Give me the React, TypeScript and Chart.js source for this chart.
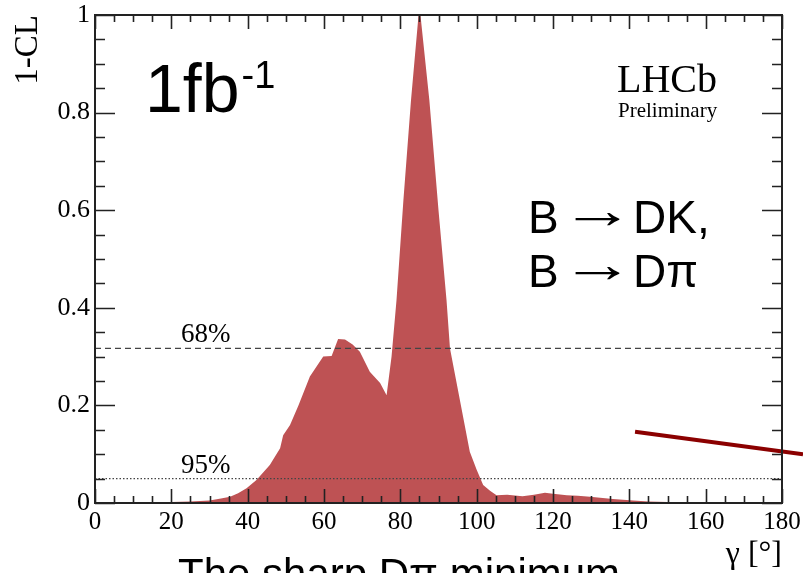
import React, { useEffect, useRef } from "react";
import { Chart, registerables } from "chart.js";

Chart.register(...registerables);

// γ [°] sampling points and 1-CL values
const gammaDeg = [0, 10, 20, 25, 30, 33, 35.4, 37.5, 39.7, 42.3, 45.8, 48.5, 49.3, 51.1, 53.3, 56.3, 59.8, 62, 63.7, 65.5, 67.5, 69.4, 72, 74.7, 76.4, 77.7, 79, 80.8, 82.8, 85, 87.6, 90, 92.1, 93, 95.6, 98.2, 100, 101.7, 103.5, 105.2, 108, 112, 115, 117.9, 120, 123.6, 126.5, 129.7, 135.7, 141, 145, 150, 160, 180];
const oneMinusCL = [0, 0.001, 0.002, 0.003, 0.005, 0.009, 0.013, 0.02, 0.03, 0.047, 0.078, 0.112, 0.139, 0.16, 0.2, 0.259, 0.3, 0.301, 0.336, 0.335, 0.325, 0.31, 0.269, 0.246, 0.221, 0.3, 0.416, 0.62, 0.826, 1.02, 0.826, 0.6, 0.416, 0.317, 0.211, 0.105, 0.068, 0.037, 0.025, 0.016, 0.017, 0.014, 0.017, 0.021, 0.019, 0.016, 0.015, 0.013, 0.008, 0.005, 0.003, 0.002, 0.0005, 0];

// Confidence level reference lines
const clLevelX = [0, 180];
const cl68 = [0.317, 0.317];
const cl95 = [0.05, 0.05];

// Annotation pointer line (in data coordinates)
const pointerX = [141.5, 185.5];
const pointerY = [0.146, 0.1];

// Tick labels
const xTickValues = [0, 20, 40, 60, 80, 100, 120, 140, 160, 180];
const yTickValues = [0, 0.2, 0.4, 0.6, 0.8, 1];

const SERIF = "'Liberation Serif', 'Times New Roman', serif";
const SANS = "'Liberation Sans', Arial, sans-serif";

function drawReaction(ctx: CanvasRenderingContext2D, x: number, y: number, product: string) {
  ctx.font = `46px ${SANS}`;
  ctx.textAlign = "left";
  ctx.fillText("B", x, y);
  // stretched arrow glyph: ink from x+47 to x+92
  const m = ctx.measureText("\u2192");
  const inkL = -m.actualBoundingBoxLeft;
  const inkR = m.actualBoundingBoxRight;
  const s = 45 / Math.max(1, inkR - inkL);
  ctx.save();
  ctx.translate(x + 47 - inkL * s, y - 5);
  ctx.scale(s, 1.15);
  ctx.fillText("\u2192", 0, 0);
  ctx.restore();
  ctx.fillText(product, x + 105, y);
}

const framePlugin = {
  id: "rootFrame",
  afterDatasetsDraw(chart: any) {
    const ctx = chart.ctx as CanvasRenderingContext2D;
    const { left, right, top, bottom } = chart.chartArea;
    const xs = chart.scales.x;
    const ys = chart.scales.y;
    ctx.save();
    ctx.strokeStyle = "#222";
    ctx.lineWidth = 1.6;
    for (let v = 0; v <= 180; v += 5) {
      const px = Math.round(xs.getPixelForValue(v)) + 0.5;
      const len = v % 20 === 0 ? 14 : 7;
      ctx.beginPath();
      ctx.moveTo(px, bottom);
      ctx.lineTo(px, bottom - len);
      ctx.moveTo(px, top);
      ctx.lineTo(px, top + len);
      ctx.stroke();
    }
    for (let i = 0; i <= 20; i++) {
      const v = i * 0.05;
      const py = Math.round(ys.getPixelForValue(v)) + 0.5;
      const len = i % 4 === 0 ? 20 : 10;
      ctx.beginPath();
      ctx.moveTo(left, py);
      ctx.lineTo(left + len, py);
      ctx.moveTo(right, py);
      ctx.lineTo(right - len, py);
      ctx.stroke();
    }
    ctx.lineWidth = 2;
    ctx.strokeRect(left, top, right - left, bottom - top);
    ctx.restore();
  },
  afterDraw(chart: any) {
    const ctx = chart.ctx as CanvasRenderingContext2D;
    const xs = chart.scales.x;
    const ys = chart.scales.y;
    ctx.save();
    ctx.fillStyle = "#000";
    ctx.textBaseline = "alphabetic";
    ctx.textAlign = "left";

    // 1fb^-1
    ctx.font = `68px ${SANS}`;
    ctx.fillText("1fb", 145, 112);
    const w = ctx.measureText("1fb").width;
    ctx.font = `38px ${SANS}`;
    ctx.fillText("-1", 145 + w + 2, 88);

    // LHCb Preliminary
    ctx.font = `40px ${SERIF}`;
    ctx.fillText("LHCb", 617, 92);
    ctx.font = `21px ${SERIF}`;
    ctx.fillText("Preliminary", 618, 117);

    // Channels
    drawReaction(ctx, 528, 233, "DK,");
    drawReaction(ctx, 528, 287, "D\u03c0");

    // CL labels
    ctx.textAlign = "left";
    ctx.font = `27px ${SERIF}`;
    ctx.fillText("68%", xs.getPixelForValue(22.5), ys.getPixelForValue(0.317) - 6);
    ctx.fillText("95%", xs.getPixelForValue(22.5), ys.getPixelForValue(0.05) - 6);

    // axis titles
    ctx.font = `32px ${SERIF}`;
    ctx.textAlign = "right";
    ctx.fillText("\u03b3 [\u00b0]", 782, 563);

    ctx.save();
    ctx.translate(37, 15);
    ctx.rotate(-Math.PI / 2);
    ctx.font = `33px ${SERIF}`;
    ctx.textAlign = "right";
    ctx.fillText("1-CL", 0, 0);
    ctx.restore();

    // bottom caption (cut off by the canvas edge)
    ctx.textAlign = "left";
    ctx.font = `42px ${SANS}`;
    ctx.fillText("The sharp D\u03c0 minimum", 178, 588);
    ctx.restore();
  },
};

export default function App() {
  const ref = useRef<HTMLCanvasElement>(null);
  useEffect(() => {
    if (!ref.current) return;
    const chart = new Chart(ref.current, {
      type: "line",
      data: {
        datasets: [
          {
            data: gammaDeg.map((g, i) => ({ x: g, y: oneMinusCL[i] })),
            backgroundColor: "#BE5254",
            borderColor: "#BE5254",
            borderWidth: 0,
            fill: "origin",
            pointRadius: 0,
            tension: 0,
            clip: false as any,
            order: 10,
          },
          {
            data: clLevelX.map((g, i) => ({ x: g, y: cl68[i] })),
            borderColor: "#444",
            borderWidth: 1.2,
            borderDash: [6, 4],
            pointRadius: 0,
            fill: false,
            order: 2,
          },
          {
            data: clLevelX.map((g, i) => ({ x: g, y: cl95[i] })),
            borderColor: "#444",
            borderWidth: 1.2,
            borderDash: [1.5, 2],
            pointRadius: 0,
            fill: false,
            order: 2,
          },
          {
            data: pointerX.map((g, i) => ({ x: g, y: pointerY[i] })),
            borderColor: "#8B0000",
            borderWidth: 4,
            pointRadius: 0,
            fill: false,
            clip: false as any,
            order: 1,
          },
        ],
      },
      options: {
        animation: false,
        responsive: false,
        devicePixelRatio: 1,
        layout: { padding: { left: 0, right: 21, top: 15, bottom: 0 } },
        plugins: { legend: { display: false }, tooltip: { enabled: false } },
        scales: {
          x: {
            type: "linear",
            min: 0,
            max: 180,
            grid: { display: false, drawTicks: false },
            border: { display: false },
            afterBuildTicks: (s: any) => {
              s.ticks = xTickValues.map((v) => ({ value: v }));
            },
            afterFit: (s: any) => {
              s.height = 70;
              s.paddingLeft = 0;
              s.paddingRight = 0;
              s.paddingTop = 0;
              s.paddingBottom = 0;
            },
            ticks: {
              color: "#000",
              font: { family: SERIF, size: 25 },
              padding: 4,
              maxRotation: 0,
              autoSkip: false,
              callback: (v: any) => String(v),
            },
          },
          y: {
            type: "linear",
            min: 0,
            max: 1,
            grid: { display: false, drawTicks: false },
            border: { display: false },
            afterBuildTicks: (s: any) => {
              s.ticks = yTickValues.map((v) => ({ value: v }));
            },
            afterFit: (s: any) => {
              s.width = 95;
              s.paddingLeft = 0;
              s.paddingRight = 0;
              s.paddingTop = 0;
              s.paddingBottom = 0;
            },
            ticks: {
              color: "#000",
              font: { family: SERIF, size: 26 },
              padding: 5,
              autoSkip: false,
              callback: (v: any) => String(+Number(v).toFixed(2)),
            },
          },
        },
      },
      plugins: [framePlugin],
    });
    return () => chart.destroy();
  }, []);
  return (
    <div style={{ position: "absolute", left: 0, top: 0, width: 803, height: 573, background: "#fff" }}>
      <canvas ref={ref} width={803} height={573} style={{ display: "block" }} />
    </div>
  );
}
